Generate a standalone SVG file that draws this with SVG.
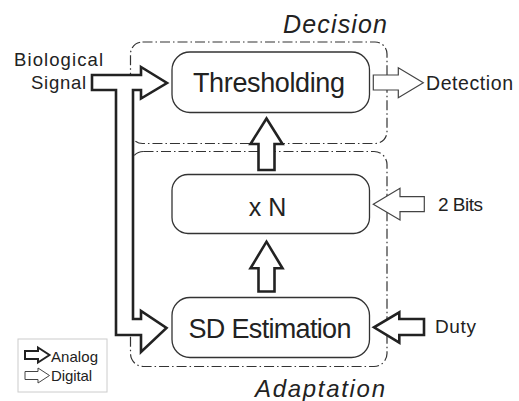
<svg xmlns="http://www.w3.org/2000/svg" width="519" height="401" viewBox="0 0 519 401">
<style>
text{font-family:"Liberation Sans",Arial,sans-serif;fill:#222}
.it{font-style:italic}
.region{fill:none;stroke:#333;stroke-width:1.2;stroke-dasharray:10 3 1.5 3}
.node{fill:#fff;stroke:#333;stroke-width:1.3}
.analog{fill:#fff;stroke:#222;stroke-width:2.6;stroke-linejoin:miter}
.digital{fill:#fff;stroke:#444;stroke-width:1.2;stroke-linejoin:miter}
</style>
<rect width="519" height="401" fill="#fff"/>
<g id="decision">
<rect class="region" x="130.5" y="42" width="256.5" height="101.5" rx="12"/>
<text class="it" x="283" y="33" font-size="25" textLength="104">Decision</text>
</g>
<g id="adaptation">
<rect class="region" x="130.5" y="151.5" width="256.5" height="215" rx="13"/>
<text class="it" x="255" y="396.5" font-size="24" textLength="130">Adaptation</text>
</g>
<g id="thresholding">
<rect class="node" x="172" y="52" width="197.5" height="60.5" rx="18"/>
<text x="269" y="92" font-size="27" text-anchor="middle" textLength="152">Thresholding</text>
</g>
<g id="multiplier">
<rect class="node" x="172" y="174.5" width="197.5" height="59" rx="16"/>
<text x="267.5" y="215.5" font-size="25" text-anchor="middle">x N</text>
</g>
<g id="sd-estimation">
<rect class="node" x="172" y="297.5" width="197.5" height="60" rx="18"/>
<text x="270" y="338" font-size="27" text-anchor="middle" textLength="163">SD Estimation</text>
</g>
<g id="biological-signal">
<text x="58.5" y="66" font-size="18.5" text-anchor="middle" textLength="89">Biological</text>
<text x="58.5" y="89" font-size="18.5" text-anchor="middle" textLength="55">Signal</text>
</g>
<g id="detection">
<text x="426" y="90" font-size="19.5" textLength="87">Detection</text>
</g>
<g id="two-bits">
<text x="438" y="211" font-size="19" textLength="45">2 Bits</text>
</g>
<g id="duty">
<text x="435" y="333" font-size="19" textLength="41">Duty</text>
</g>
<g id="connectors">
<polygon class="analog" points="92,75 141,75 141,67 167,83 141,98.5 141,90 133,90 133,319 141,319 141,311 166.5,328 141,352 141,335 116,335 116,90 92,90"/>
<polygon class="analog" points="258.5,170 258.5,144 250.5,144 266.5,118.5 282.5,144 274.5,144 274.5,170"/>
<polygon class="analog" points="258.5,291.5 258.5,268.3 250.5,268.3 266.5,241.7 282.5,268.3 274.5,268.3 274.5,291.5"/>
<polygon class="digital" points="373.3,75 398.3,75 398.3,67.7 423.3,82.7 398.3,97.7 398.3,90 373.3,90"/>
<polygon class="digital" points="424.3,196.7 400,196.7 400,188.3 373.3,204.3 400,220 400,211.7 424.3,211.7"/>
<polygon class="analog" points="424,319 399.3,319 399.3,312.3 374,327.3 399.3,342.7 399.3,335 424,335"/>
</g>
<g id="legend">
<rect x="18" y="339" width="89" height="53" fill="none" stroke="#ccc" stroke-width="1"/>
<polygon class="analog" style="stroke-width:2" points="25,351 38,351 38,347.5 49.5,355 38,362.5 38,359 25,359"/>
<text x="51" y="361.5" font-size="15" textLength="47">Analog</text>
<polygon class="digital" style="stroke-width:1" points="25,371.5 38,371.5 38,368 49.5,375.5 38,383 38,379.5 25,379.5"/>
<text x="51" y="380.5" font-size="15" textLength="41">Digital</text>
</g>
</svg>
